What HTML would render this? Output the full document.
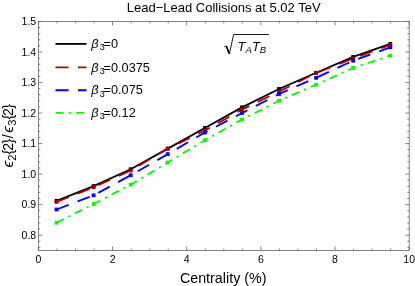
<!DOCTYPE html><html><head><meta charset="utf-8"><style>html,body{margin:0;padding:0;background:#fff}svg{display:block;will-change:transform}text{font-family:"Liberation Sans",sans-serif;fill:#000}</style></head><body>
<svg width="415" height="286" viewBox="0 0 415 286">
<rect width="415" height="286" fill="#fff"/>
<polyline fill="none" stroke="#000000" stroke-width="1.85"  points="56.54,200.84 93.62,186.09 130.70,169.22 167.78,148.62 204.86,128.01 241.94,107.35 279.02,88.98 316.10,72.77 353.18,56.96 390.26,43.96"/>
<rect x="54.64" y="198.94" width="3.8" height="3.8" fill="#000000"/>
<rect x="91.72" y="184.19" width="3.8" height="3.8" fill="#000000"/>
<rect x="128.80" y="167.32" width="3.8" height="3.8" fill="#000000"/>
<rect x="165.88" y="146.72" width="3.8" height="3.8" fill="#000000"/>
<rect x="202.96" y="126.11" width="3.8" height="3.8" fill="#000000"/>
<rect x="240.04" y="105.45" width="3.8" height="3.8" fill="#000000"/>
<rect x="277.12" y="87.08" width="3.8" height="3.8" fill="#000000"/>
<rect x="314.20" y="70.87" width="3.8" height="3.8" fill="#000000"/>
<rect x="351.28" y="55.06" width="3.8" height="3.8" fill="#000000"/>
<rect x="388.36" y="42.06" width="3.8" height="3.8" fill="#000000"/>
<polyline fill="none" stroke="#aa0000" stroke-width="1.85" stroke-dasharray="13,9.5" points="56.54,201.87 93.62,187.22 130.70,170.44 167.78,148.62 204.86,130.49 241.94,109.64 279.02,91.57 316.10,72.90 353.18,58.55 390.26,44.76"/>
<rect x="54.64" y="199.97" width="3.8" height="3.8" fill="#aa0000"/>
<rect x="91.72" y="185.32" width="3.8" height="3.8" fill="#aa0000"/>
<rect x="128.80" y="168.54" width="3.8" height="3.8" fill="#aa0000"/>
<rect x="165.88" y="146.72" width="3.8" height="3.8" fill="#aa0000"/>
<rect x="202.96" y="128.59" width="3.8" height="3.8" fill="#aa0000"/>
<rect x="240.04" y="107.74" width="3.8" height="3.8" fill="#aa0000"/>
<rect x="277.12" y="89.67" width="3.8" height="3.8" fill="#aa0000"/>
<rect x="314.20" y="71.00" width="3.8" height="3.8" fill="#aa0000"/>
<rect x="351.28" y="56.65" width="3.8" height="3.8" fill="#aa0000"/>
<rect x="388.36" y="42.86" width="3.8" height="3.8" fill="#aa0000"/>
<polyline fill="none" stroke="#0000ff" stroke-width="1.85" stroke-dasharray="13,9.5" points="56.54,209.50 93.62,195.34 130.70,175.26 167.78,154.14 204.86,132.53 241.94,113.06 279.02,93.99 316.10,77.81 353.18,60.69 390.26,47.29"/>
<rect x="54.64" y="207.60" width="3.8" height="3.8" fill="#0000ff"/>
<rect x="91.72" y="193.44" width="3.8" height="3.8" fill="#0000ff"/>
<rect x="128.80" y="173.36" width="3.8" height="3.8" fill="#0000ff"/>
<rect x="165.88" y="152.24" width="3.8" height="3.8" fill="#0000ff"/>
<rect x="202.96" y="130.63" width="3.8" height="3.8" fill="#0000ff"/>
<rect x="240.04" y="111.16" width="3.8" height="3.8" fill="#0000ff"/>
<rect x="277.12" y="92.09" width="3.8" height="3.8" fill="#0000ff"/>
<rect x="314.20" y="75.91" width="3.8" height="3.8" fill="#0000ff"/>
<rect x="351.28" y="58.79" width="3.8" height="3.8" fill="#0000ff"/>
<rect x="388.36" y="45.39" width="3.8" height="3.8" fill="#0000ff"/>
<polyline fill="none" stroke="#00ff00" stroke-width="1.85" stroke-dasharray="8,5.2,2.2,5.2" points="56.54,222.72 93.62,204.01 130.70,184.66 167.78,162.50 204.86,140.22 241.94,119.59 279.02,100.76 316.10,84.68 353.18,67.89 390.26,55.68"/>
<rect x="54.64" y="220.82" width="3.8" height="3.8" fill="#00ff00"/>
<rect x="91.72" y="202.11" width="3.8" height="3.8" fill="#00ff00"/>
<rect x="128.80" y="182.76" width="3.8" height="3.8" fill="#00ff00"/>
<rect x="165.88" y="160.60" width="3.8" height="3.8" fill="#00ff00"/>
<rect x="202.96" y="138.32" width="3.8" height="3.8" fill="#00ff00"/>
<rect x="240.04" y="117.69" width="3.8" height="3.8" fill="#00ff00"/>
<rect x="277.12" y="98.86" width="3.8" height="3.8" fill="#00ff00"/>
<rect x="314.20" y="82.78" width="3.8" height="3.8" fill="#00ff00"/>
<rect x="351.28" y="65.99" width="3.8" height="3.8" fill="#00ff00"/>
<rect x="388.36" y="53.78" width="3.8" height="3.8" fill="#00ff00"/>
<rect x="38.4" y="21.5" width="370.8" height="228.9" fill="none" stroke="#666" stroke-width="0.8"/>
<path d="M38.40 250.40v-3.9M38.40 21.50v3.9M56.94 250.40v-1.9M56.94 21.50v1.9M75.48 250.40v-1.9M75.48 21.50v1.9M94.02 250.40v-1.9M94.02 21.50v1.9M112.56 250.40v-3.9M112.56 21.50v3.9M131.10 250.40v-1.9M131.10 21.50v1.9M149.64 250.40v-1.9M149.64 21.50v1.9M168.18 250.40v-1.9M168.18 21.50v1.9M186.72 250.40v-3.9M186.72 21.50v3.9M205.26 250.40v-1.9M205.26 21.50v1.9M223.80 250.40v-1.9M223.80 21.50v1.9M242.34 250.40v-1.9M242.34 21.50v1.9M260.88 250.40v-3.9M260.88 21.50v3.9M279.42 250.40v-1.9M279.42 21.50v1.9M297.96 250.40v-1.9M297.96 21.50v1.9M316.50 250.40v-1.9M316.50 21.50v1.9M335.04 250.40v-3.9M335.04 21.50v3.9M353.58 250.40v-1.9M353.58 21.50v1.9M372.12 250.40v-1.9M372.12 21.50v1.9M390.66 250.40v-1.9M390.66 21.50v1.9M409.20 250.40v-3.9M409.20 21.50v3.9M38.40 247.35h1.9M409.20 247.35h-1.9M38.40 241.24h1.9M409.20 241.24h-1.9M38.40 235.14h3.9M409.20 235.14h-3.9M38.40 229.04h1.9M409.20 229.04h-1.9M38.40 222.93h1.9M409.20 222.93h-1.9M38.40 216.83h1.9M409.20 216.83h-1.9M38.40 210.72h1.9M409.20 210.72h-1.9M38.40 204.62h3.9M409.20 204.62h-3.9M38.40 198.52h1.9M409.20 198.52h-1.9M38.40 192.41h1.9M409.20 192.41h-1.9M38.40 186.31h1.9M409.20 186.31h-1.9M38.40 180.20h1.9M409.20 180.20h-1.9M38.40 174.10h3.9M409.20 174.10h-3.9M38.40 168.00h1.9M409.20 168.00h-1.9M38.40 161.89h1.9M409.20 161.89h-1.9M38.40 155.79h1.9M409.20 155.79h-1.9M38.40 149.68h1.9M409.20 149.68h-1.9M38.40 143.58h3.9M409.20 143.58h-3.9M38.40 137.48h1.9M409.20 137.48h-1.9M38.40 131.37h1.9M409.20 131.37h-1.9M38.40 125.27h1.9M409.20 125.27h-1.9M38.40 119.16h1.9M409.20 119.16h-1.9M38.40 113.06h3.9M409.20 113.06h-3.9M38.40 106.96h1.9M409.20 106.96h-1.9M38.40 100.85h1.9M409.20 100.85h-1.9M38.40 94.75h1.9M409.20 94.75h-1.9M38.40 88.64h1.9M409.20 88.64h-1.9M38.40 82.54h3.9M409.20 82.54h-3.9M38.40 76.44h1.9M409.20 76.44h-1.9M38.40 70.33h1.9M409.20 70.33h-1.9M38.40 64.23h1.9M409.20 64.23h-1.9M38.40 58.12h1.9M409.20 58.12h-1.9M38.40 52.02h3.9M409.20 52.02h-3.9M38.40 45.92h1.9M409.20 45.92h-1.9M38.40 39.81h1.9M409.20 39.81h-1.9M38.40 33.71h1.9M409.20 33.71h-1.9M38.40 27.60h1.9M409.20 27.60h-1.9M38.40 21.50h3.9M409.20 21.50h-3.9" stroke="#666" stroke-width="0.8" fill="none"/>
<text x="38.4" y="262.6" font-size="10.5" text-anchor="middle">0</text>
<text x="112.6" y="262.6" font-size="10.5" text-anchor="middle">2</text>
<text x="186.7" y="262.6" font-size="10.5" text-anchor="middle">4</text>
<text x="260.9" y="262.6" font-size="10.5" text-anchor="middle">6</text>
<text x="335.0" y="262.6" font-size="10.5" text-anchor="middle">8</text>
<text x="409.2" y="262.6" font-size="10.5" text-anchor="middle">10</text>
<text x="36.2" y="238.7" font-size="10.5" text-anchor="end">0.8</text>
<text x="36.2" y="208.2" font-size="10.5" text-anchor="end">0.9</text>
<text x="36.2" y="177.7" font-size="10.5" text-anchor="end">1.0</text>
<text x="36.2" y="147.2" font-size="10.5" text-anchor="end">1.1</text>
<text x="36.2" y="116.7" font-size="10.5" text-anchor="end">1.2</text>
<text x="36.2" y="86.1" font-size="10.5" text-anchor="end">1.3</text>
<text x="36.2" y="55.6" font-size="10.5" text-anchor="end">1.4</text>
<text x="36.2" y="25.1" font-size="10.5" text-anchor="end">1.5</text>
<text x="223.65" y="11.8" font-size="13" text-anchor="middle">Lead−Lead Collisions at 5.02 TeV</text>
<text x="223.2" y="283" font-size="14.3" text-anchor="middle">Centrality (%)</text>
<g transform="translate(13.2,167.8) rotate(-90)" text-anchor="middle"><text x="3.80" y="0.0" font-size="15.5" font-style="italic">ϵ</text><text x="10.10" y="2.8" font-size="11.2">2</text><text x="15.70" y="0.0" font-size="14.2">{</text><text x="21.05" y="0.0" font-size="14.2">2</text><text x="26.60" y="0.0" font-size="14.2">}</text><text x="31.65" y="0.0" font-size="14.2">/</text><text x="38.50" y="0.0" font-size="15.5" font-style="italic">ϵ</text><text x="45.15" y="2.8" font-size="11.2">3</text><text x="50.70" y="0.0" font-size="14.2">{</text><text x="55.85" y="0.0" font-size="14.2">2</text><text x="61.50" y="0.0" font-size="14.2">}</text></g>
<line x1="55.5" y1="43.9" x2="86.5" y2="43.9" stroke="#000000" stroke-width="1.85" />
<text x="91.3" y="48.1" font-size="12.7" font-style="italic">β</text><text x="99.7" y="50.2" font-size="9">3</text><text x="103.6" y="48.1" font-size="12.7">=0</text>
<line x1="55.5" y1="67.3" x2="86.5" y2="67.3" stroke="#aa0000" stroke-width="1.85" stroke-dasharray="13,9.5"/>
<text x="91.3" y="71.5" font-size="12.7" font-style="italic">β</text><text x="99.7" y="73.6" font-size="9">3</text><text x="103.6" y="71.5" font-size="12.7">=0.0375</text>
<line x1="55.5" y1="90.2" x2="86.5" y2="90.2" stroke="#0000ff" stroke-width="1.85" stroke-dasharray="13,9.5"/>
<text x="91.3" y="94.4" font-size="12.7" font-style="italic">β</text><text x="99.7" y="96.5" font-size="9">3</text><text x="103.6" y="94.4" font-size="12.7">=0.075</text>
<line x1="55.5" y1="112.8" x2="86.5" y2="112.8" stroke="#00ff00" stroke-width="1.85" stroke-dasharray="8,5.2,2.2,5.2"/>
<text x="91.3" y="117.0" font-size="12.7" font-style="italic">β</text><text x="99.7" y="119.1" font-size="9">3</text><text x="103.6" y="117.0" font-size="12.7">=0.12</text>
<path d="M224.3 46.9l1.9 -1l3.2 8l4.2 -19.4h35.2" fill="none" stroke="#000" stroke-width="0.9" stroke-linejoin="miter"/>
<path d="M226.3 46l3.1 7.9" fill="none" stroke="#000" stroke-width="1.6"/>
<text x="237.6" y="50.9" font-size="13" font-style="italic">T<tspan font-size="9.5" dy="2.5">A</tspan><tspan dy="-2.5">T</tspan><tspan font-size="9.5" dy="2.5">B</tspan></text>
</svg></body></html>
